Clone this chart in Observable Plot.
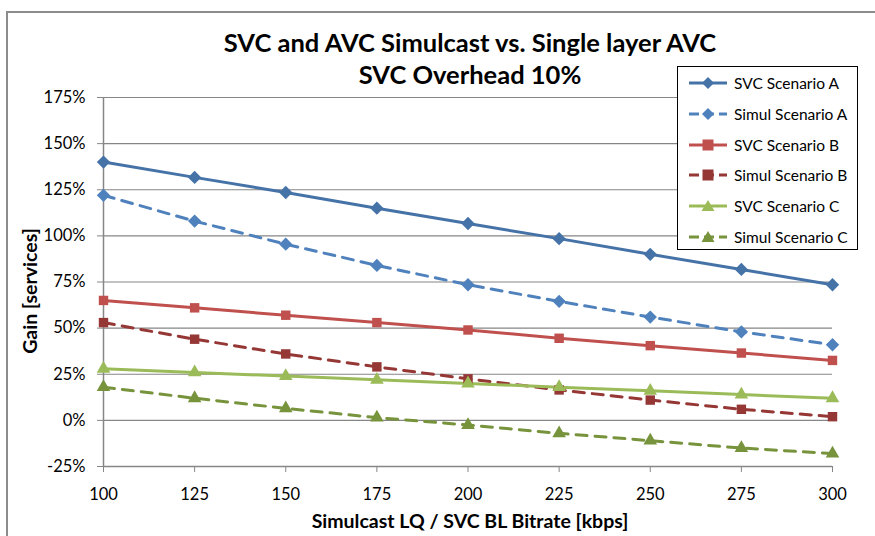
<!DOCTYPE html>
<html><head><meta charset="utf-8">
<script src="https://cdn.jsdelivr.net/npm/d3@7"></script>
<script src="https://cdn.jsdelivr.net/npm/@observablehq/plot@0.6"></script>
<style>
body{margin:0;background:#fff;font-family:Lato,"Open Sans",sans-serif;}
#wrap{position:relative;width:875px;height:536px;overflow:hidden;}
#frame{position:absolute;left:6px;top:11px;width:880px;height:540px;border:2px solid #8c8c8c;box-sizing:border-box;}
.title{position:absolute;left:0;width:940px;text-align:center;font-weight:bold;font-size:25.5px;color:#000;line-height:1;}
#legend{position:absolute;left:677px;top:66px;width:181px;height:184px;border:1px solid #000;background:#fff;box-sizing:border-box;}
.lrow{position:absolute;left:10px;height:20px;display:flex;align-items:center;font-size:15.5px;white-space:nowrap;}
.lrow svg{margin-right:6px;}
.axlab{position:absolute;font-weight:bold;font-size:19.5px;white-space:nowrap;line-height:1;}
</style></head>
<body><div id="wrap"><div id="frame"></div></div>
<script>
const bitrates = [100,125,150,175,200,225,250,275,300];
const svcA   = [140,131.7,123.5,115,106.7,98.5,90,81.8,73.5];
const simulA = [122,108,95.5,84,73.5,64.5,56,48,41];
const svcB   = [65,61,57,53,49,44.5,40.5,36.5,32.5];
const simulB = [53,44,36,29,22.5,16.5,11,6,2];
const svcC   = [28,26,24,22,20,18,16,14,12];
const simulC = [18,12,6.5,1.5,-2.5,-7,-11,-15,-18];
const yTicks = [-25,0,25,50,75,100,125,150,175];

const seriesNames = ["SVC Scenario A","Simul Scenario A","SVC Scenario B","Simul Scenario B","SVC Scenario C","Simul Scenario C"];
const seriesValues = [svcA,simulA,svcB,simulB,svcC,simulC];
const seriesColors = ["#4572A7","#4F81BD","#C0504D","#953735","#9BBB59","#77933C"];
const seriesDash = [null,"11,8",null,"11,8",null,"11,8"];
const seriesSymbol = ["diamond2","diamond2","square2","square2","triangle2","triangle2"];

const marks = [
  Plot.ruleY(yTicks.filter(d=>d!==-25),{stroke:"#868686",strokeWidth:1.2,strokeOpacity:1}),
  Plot.axisY({ticks:yTicks,tickFormat:d=>d+"%",tickSize:6,tickPadding:12,fontSize:16.5,label:null,stroke:"#868686"}),
  Plot.axisX({ticks:bitrates,tickSize:6,tickPadding:16,fontSize:16.5,label:null,stroke:"#868686"}),
  Plot.ruleX([100],{stroke:"#868686",strokeWidth:1.5}),
  Plot.ruleY([-25],{stroke:"#868686",strokeWidth:1.5})
];
seriesValues.forEach((vals,i)=>{
  const data = bitrates.map((b,j)=>({x:b,y:vals[j]}));
  marks.push(Plot.line(data,{x:"x",y:"y",stroke:seriesColors[i],strokeWidth:3,strokeDasharray:seriesDash[i]}));
});
seriesValues.forEach((vals,i)=>{
  const data = bitrates.map((b,j)=>({x:b,y:vals[j]}));
  marks.push(Plot.dot(data,{x:"x",y:"y",fill:seriesColors[i],stroke:"none",symbol:seriesSymbol[i],r:i>=4?6.5:6}));
});

const chart = Plot.plot({
  width:875,height:536,
  marginLeft:103,marginRight:43,marginTop:97,marginBottom:70,
  style:{fontFamily:"Lato, 'Open Sans', sans-serif",color:"#000",background:"transparent"},
  x:{domain:[100,300]},
  y:{domain:[-25,175]},
  marks
});
chart.style.position="absolute";chart.style.left="0";chart.style.top="0";
const wrap=document.getElementById("wrap");
wrap.appendChild(chart);

function addDiv(cls,html,css){const d=document.createElement("div");d.className=cls;d.innerHTML=html;Object.assign(d.style,css);wrap.appendChild(d);return d;}
addDiv("title","SVC and AVC Simulcast vs. Single layer AVC",{top:"30px"});
addDiv("title","SVC Overhead 10%",{top:"62px"});
addDiv("axlab","Simulcast LQ / SVC BL Bitrate [kbps]",{left:"0",width:"940px",textAlign:"center",top:"511px"});
addDiv("axlab","Gain [services]",{left:"30px",top:"291px",transform:"translate(-50%,-50%) rotate(-90deg)"});

const leg=document.createElement("div");leg.id="legend";wrap.appendChild(leg);
const rowY=[16,47,78,108,139,170];
seriesNames.forEach((name,i)=>{
  const r=document.createElement("div");r.className="lrow";r.style.top=(rowY[i]-10)+"px";
  const dash=seriesDash[i]?'stroke-dasharray="10,5"':'';
  let sym="";
  const c=seriesColors[i];
  if(i<2) sym=`<path d="M20,4 L26,10 L20,16 L14,10Z" fill="${c}"/>`;
  else if(i<4) sym=`<rect x="14.5" y="4.5" width="11" height="11" fill="${c}"/>`;
  else sym=`<path d="M20,4 L26.5,15 L13.5,15Z" fill="${c}"/>`;
  r.innerHTML=`<svg width="40" height="20"><line x1="1" x2="39" y1="10" y2="10" stroke="${c}" stroke-width="3" ${dash}/>${sym}</svg><span>${name}</span>`;
  leg.appendChild(r);
});
</script>
</body></html>
